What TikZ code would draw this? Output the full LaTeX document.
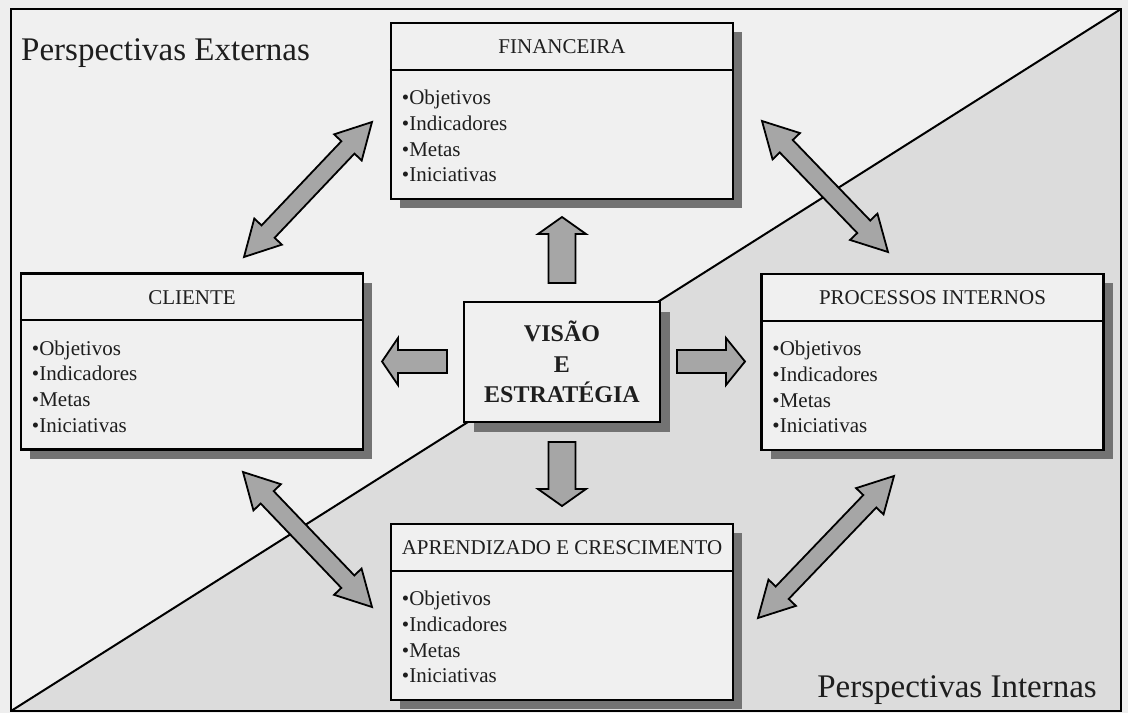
\documentclass[tikz,border=0pt]{standalone}
\usepackage{fontspec}
\setmainfont{Liberation Serif}
\usetikzlibrary{calc,shadows}
\definecolor{bgout}{HTML}{EEEEEE}
\definecolor{bgup}{HTML}{F0F0F0}
\definecolor{bglow}{HTML}{DCDCDC}
\definecolor{arrfill}{HTML}{A6A6A6}
\definecolor{shadowc}{HTML}{737373}
\definecolor{boxfill}{HTML}{F0F0F0}
\definecolor{txt}{HTML}{1E1E1E}

\newcommand\blkdouble[5]{%
  \coordinate (hA) at ($(#1)!#5!(#2)$);
  \coordinate (hB) at ($(#2)!#5!(#1)$);
  \filldraw[blockarrow] (#1) -- ($(hA)!#4!90:(#2)$) -- ($(hA)!#3!90:(#2)$)
    -- ($(hB)!#3!-90:(#1)$) -- ($(hB)!#4!-90:(#1)$) -- (#2)
    -- ($(hB)!#4!90:(#1)$) -- ($(hB)!#3!90:(#1)$)
    -- ($(hA)!#3!-90:(#2)$) -- ($(hA)!#4!-90:(#2)$) -- cycle;
}
\newcommand\blksingle[5]{%
  \coordinate (hT) at ($(#2)!#5!(#1)$);
  \filldraw[blockarrow] ($(#1)!#3!90:(#2)$) -- ($(hT)!#3!-90:(#1)$)
    -- ($(hT)!#4!-90:(#1)$) -- (#2) -- ($(hT)!#4!90:(#1)$)
    -- ($(hT)!#3!90:(#1)$) -- ($(#1)!#3!-90:(#2)$) -- cycle;
}

\begin{document}
\begin{tikzpicture}[x=1pt,y=-1pt,
  blockarrow/.style={draw=black, fill=arrfill, line width=1.8pt, line join=miter},
  bsc/.style={draw=black, line width=2.5pt, fill=boxfill, minimum width=342pt,
    minimum height=176pt, inner sep=0pt,
    drop shadow={shadow xshift=9pt, shadow yshift=-9pt, fill=shadowc, opacity=1}},
  ctrbox/.style={draw=black, line width=2.5pt, fill=boxfill, minimum width=196pt,
    minimum height=120pt, inner sep=0pt, align=center, text=txt,
    font=\fontsize{24}{30.5}\selectfont\bfseries,
    drop shadow={shadow xshift=10pt, shadow yshift=-10pt, fill=shadowc, opacity=1}},
  divider/.style={draw=black, line width=2pt},
  ttl/.style={text=txt, inner sep=0pt, font=\fontsize{21}{25}\selectfont},
  item/.style={text=txt, inner sep=0pt, anchor=base west, font=\fontsize{21}{25}\selectfont},
  persp/.style={text=txt, inner sep=0pt, font=\fontsize{33}{40}\selectfont},
  frameline/.style={draw=black, line width=2.5pt},
  diag/.style={draw=black, line width=2pt}
]
\useasboundingbox (0,0) rectangle (1128,713);
\fill[bgout] (0,0) rectangle (1128,713);

% frame and halves
\coordinate (fTL) at (11,9);
\coordinate (fTR) at (1121,9);
\coordinate (fBR) at (1121,711);
\coordinate (fBL) at (11,711);
\fill[bgup] (fTL) rectangle (fBR);
\fill[bglow] (fBL) -- (fTR) -- (fBR) -- cycle;
\draw[diag] (fBL) -- (fTR);
\draw[frameline] (fTL) rectangle (fBR);

% labels
\node[persp, anchor=base west] (ext) at (21,60) {Perspectivas Externas};
\node[persp, anchor=base east] (int) at (1097,697) {Perspectivas Internas};

% boxes
\node[bsc] (fin) at (562,111) {};
\node[bsc] (cli) at (192,361.5) {};
\node[bsc] (pro) at (932.5,362) {};
\node[bsc] (apr) at (562,612) {};

\foreach \b/\t in {fin/FINANCEIRA, cli/CLIENTE, pro/PROCESSOS INTERNOS, apr/APRENDIZADO E CRESCIMENTO}{
  \draw[divider] ([yshift=-48pt]\b.north west) -- ([yshift=-48pt]\b.north east);
  \node[ttl] (\b-t) at ([yshift=-25pt]\b.north) {\t};
  \foreach \it [count=\i from 0] in {Objetivos,Indicadores,Metas,Iniciativas}{
    \node[item] (\b-\i) at ([xshift=12pt, yshift={-(83+25.7*\i)*1pt}]\b.north west) {•\it};
  }
}

% centre
\node[ctrbox] (ctr) at (562,362) {VISÃO\\E\\ESTRATÉGIA};

% straight arrows
\coordinate (upS) at (562,283);   \coordinate (upT) at (562,217);
\coordinate (dnS) at (562,442);   \coordinate (dnT) at (562,506);
\coordinate (lfS) at (447,361.5); \coordinate (lfT) at (382,361.5);
\coordinate (rtS) at (677,361.5); \coordinate (rtT) at (745,361.5);
\blksingle{upS}{upT}{13.5pt}{24pt}{17pt}
\blksingle{dnS}{dnT}{13.5pt}{24pt}{17pt}
\blksingle{lfS}{lfT}{11.5pt}{23.5pt}{16pt}
\blksingle{rtS}{rtT}{11.5pt}{23.5pt}{19pt}

% diagonal double arrows
\coordinate (d1a) at (244,257); \coordinate (d1b) at (372,122);
\coordinate (d2a) at (762,121); \coordinate (d2b) at (888,252);
\coordinate (d3a) at (243,472); \coordinate (d3b) at (372,607);
\coordinate (d4a) at (758,618); \coordinate (d4b) at (894,476);
\blkdouble{d1a}{d1b}{9pt}{19pt}{35pt}
\blkdouble{d2a}{d2b}{9pt}{19pt}{35pt}
\blkdouble{d3a}{d3b}{9pt}{19pt}{35pt}
\blkdouble{d4a}{d4b}{9pt}{19pt}{35pt}
\end{tikzpicture}
\end{document}
